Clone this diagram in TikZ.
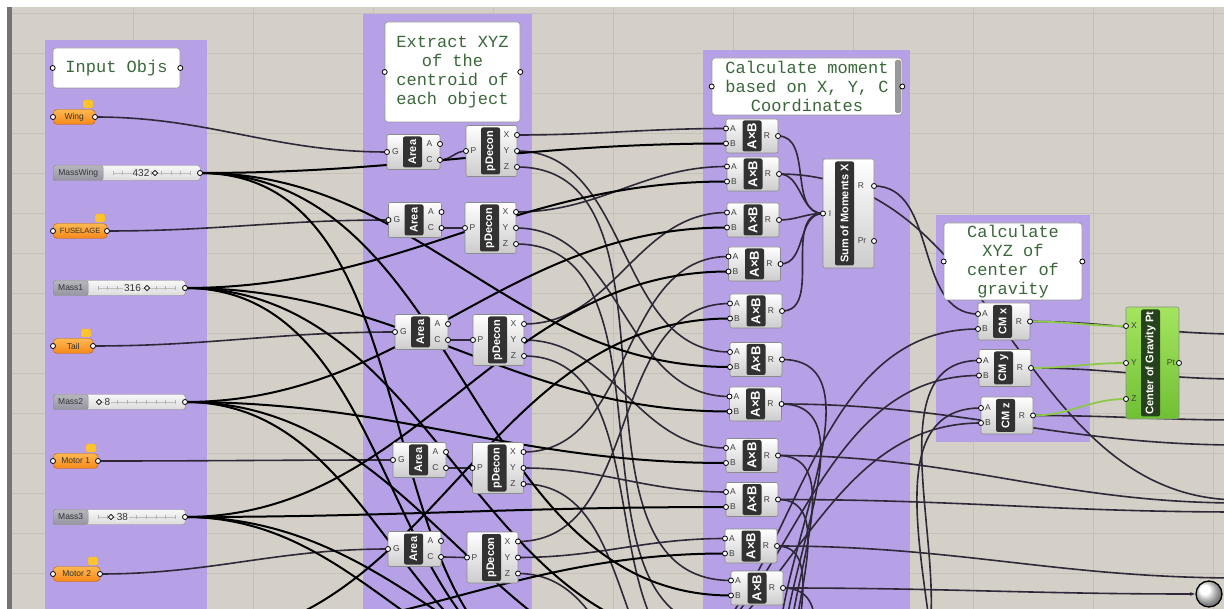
\documentclass[tikz,border=0pt]{standalone}
\usepackage{fontspec}
\setmainfont{Liberation Sans}
\newfontfamily\panelfont{Liberation Mono}
\usetikzlibrary{arrows.meta,positioning,calc}
\definecolor{canvas}{RGB}{212,208,199}
\definecolor{gridc}{RGB}{197,193,184}
\definecolor{groupc}{RGB}{182,161,230}
\definecolor{wirec}{RGB}{46,40,56}
\definecolor{paneltext}{RGB}{58,104,58}
\definecolor{orangetop}{RGB}{255,185,80}
\definecolor{orangebot}{RGB}{246,135,25}
\definecolor{orangeb}{RGB}{180,95,25}
\definecolor{flagc}{RGB}{255,196,45}
\definecolor{tagc}{RGB}{50,50,50}
\definecolor{greentop}{RGB}{165,228,95}
\definecolor{greenbot}{RGB}{112,192,52}
\definecolor{greentag}{RGB}{38,66,28}
\definecolor{greenwire}{RGB}{140,202,72}
\definecolor{sliderlab}{RGB}{150,150,162}

\pgfdeclarelayer{bg}
\pgfdeclarelayer{wires}
\pgfsetlayers{bg,wires,main}

\tikzset{
  comp/.style={draw=black!45, top color=white, bottom color=black!20, rounded corners=2pt, inner sep=0pt, line width=0.6pt},
  greencomp/.style={draw=black!45, top color=greentop, bottom color=greenbot, rounded corners=2pt, inner sep=0pt, line width=0.6pt},
  tag/.style={fill=tagc, rounded corners=2pt, text=white, font=\bfseries\fontsize{11}{12}\selectfont, rotate=90, inner sep=0pt, minimum height=19pt},
  plbl/.style={font=\fontsize{8.5}{9}\selectfont, text=black!75, inner sep=0pt},
  port/.style={circle, draw=black, fill=white, line width=0.8pt, inner sep=0pt, minimum size=5pt},
  panel/.style={draw=black!40, fill=white, rounded corners=3pt, line width=0.6pt, font=\panelfont\fontsize{17}{19}\selectfont, text=paneltext, align=center, inner sep=0pt},
  param/.style={draw=orangeb, top color=orangetop, bottom color=orangebot, rounded corners=4pt, minimum height=15pt, inner sep=0pt, font=\fontsize{8.5}{9}\selectfont, text=black!80},
  flag/.style={fill=flagc, draw=orangeb!60, rounded corners=1pt, minimum width=10pt, minimum height=8pt, inner sep=0pt},
  track/.style={draw=black!45, top color=black!3, bottom color=black!14, rounded corners=2.5pt, minimum height=15pt, inner sep=0pt},
  slbl/.style={draw=black!45, top color=sliderlab!70, bottom color=sliderlab, rounded corners=2.5pt, minimum height=15pt, inner sep=0pt, font=\fontsize{8.5}{9}\selectfont, text=black!80},
  wire/.style={draw=wirec, line width=1.6pt},
  masswire/.style={draw=black, line width=2pt},
  gwire/.style={draw=greenwire, line width=1.8pt},
  knob/.style={circle, ball color=white, draw=black, line width=1.3pt, minimum size=26pt, inner sep=0pt}
}

% orange parameter: name, centre y, width, text
\newcommand{\ghparam}[4]{%
  \node[param, minimum width=#3pt, anchor=west] (#1) at (53,#2) {#4};
  \node[flag] at (53+#3-7,#2-13) {};
  \coordinate (#1-o) at (53+#3,#2);
  \node[port] at (53,#2) {};
  \node[port] at (#1-o) {};
}
% slider: name, y, width, label width, label, value, value x, marker x
\newcommand{\ghslider}[8]{%
  \node[track, minimum width=#3pt, anchor=west] (#1) at (53,#2) {};
  \draw[black!25, line width=0.4pt] (53+#4+10,#2) -- (53+#3-10,#2);
  \foreach \k in {0,...,8} \draw[black!30, line width=0.4pt] ({53+#4+10+\k*(#3-#4-20)/8},#2-2) -- ++(0,4);
  \node[slbl, minimum width=#4pt, anchor=west] at (53,#2) {#5};
  \node[font=\fontsize{10}{11}\selectfont, text=black!80, fill=black!8, inner sep=1pt] at (#7,#2) {#6};
  \node[draw=black, fill=white, rotate=45, minimum size=3.6pt, inner sep=0pt, line width=0.7pt] at (#8,#2) {};
  \coordinate (#1-o) at (53+#3,#2);
  \node[port] at (#1-o) {};
}
\newcommand{\areacomp}[3]{%
  \node[comp, minimum width=53pt, minimum height=35pt] (#1) at (#2,#3) {};
  \node[tag, minimum width=31pt] at (#2-1,#3) {Area};
  \node[plbl] at (#2-18,#3) {G};
  \node[plbl] at (#2+16,#3-8) {A};
  \node[plbl] at (#2+16,#3+8) {C};
  \coordinate (#1-g) at (#2-26.5,#3);
  \coordinate (#1-a) at (#2+26.5,#3-8);
  \coordinate (#1-c) at (#2+26.5,#3+8);
  \foreach \p in {g,a,c} \node[port] at (#1-\p) {};
}
\newcommand{\deconcomp}[3]{%
  \node[comp, minimum width=51pt, minimum height=51pt] (#1) at (#2,#3) {};
  \node[tag, minimum width=47pt] at (#2-1,#3) {pDecon};
  \node[plbl] at (#2-18,#3) {P};
  \node[plbl] at (#2+15,#3-16) {X};
  \node[plbl] at (#2+15,#3) {Y};
  \node[plbl] at (#2+15,#3+16) {Z};
  \coordinate (#1-p) at (#2-25.5,#3);
  \coordinate (#1-x) at (#2+25.5,#3-16);
  \coordinate (#1-y) at (#2+25.5,#3);
  \coordinate (#1-z) at (#2+25.5,#3+16);
  \foreach \p in {p,x,y,z} \node[port] at (#1-\p) {};
}
\newcommand{\multcomp}[4]{%
  \node[comp, minimum width=52pt, minimum height=#4pt] (#1) at (#2,#3) {};
  \node[plbl] at (#2-19,#3-7.5) {A};
  \node[plbl] at (#2-19,#3+7.5) {B};
  \node[plbl] at (#2+15,#3) {R};
  \coordinate (#1-a) at (#2-26,#3-7.5);
  \coordinate (#1-b) at (#2-26,#3+7.5);
  \coordinate (#1-r) at (#2+26,#3);
  \foreach \p in {a,b,r} \node[port] at (#1-\p) {};
}

\begin{document}
\begin{tikzpicture}[x=1pt,y=-1pt]
\useasboundingbox (0,0) rectangle (1224,609);

\begin{pgfonlayer}{bg}
\fill[white] (0,0) rectangle (1224,609);
\fill[canvas] (7,7) rectangle (1224,609);
\foreach \gx in {133,253,...,1213} \draw[gridc, line width=0.6pt] (\gx,7) -- (\gx,609);
\foreach \gy in {13,53,...,613} \draw[gridc, line width=0.6pt] (12,\gy) -- (1224,\gy);
\fill[black!55] (7,7) rectangle (12,609);
% groups
\fill[groupc] (45,40) rectangle (207,615);
\fill[groupc] (363,14) rectangle (532,615);
\fill[groupc] (703,50) rectangle (910,615);
\fill[groupc] (936,215) rectangle (1090,442);
\end{pgfonlayer}

% panels
\node[panel, minimum width=127pt, minimum height=40pt] (pn1) at (116.5,68) {Input Objs};
\node[panel, minimum width=135pt, minimum height=100pt] (pn2) at (452.5,72) {Extract XYZ\\of the\\centroid of\\each object};
\node[panel, minimum width=190pt, minimum height=57pt] (pn3) at (807,86.5) {Calculate moment\\based on X, Y, C\\Coordinates};
\node[panel, minimum width=138pt, minimum height=77pt] (pn4) at (1013,261.5) {Calculate\\XYZ of\\center of\\gravity};
\fill[black!40, rounded corners=1.5pt] (895,60) rectangle (901,113);
\foreach \n in {pn1,pn2,pn3,pn4} {
  \node[port] at (\n.west) {};
  \node[port] at (\n.east) {};
}

% inputs
\ghparam{wing}{117}{42}{Wing}
\ghslider{mwing}{173}{147}{50}{MassWing}{432}{141}{155}
\ghparam{fus}{231}{54}{\fontsize{7.6}{8}\selectfont FUSELAGE}
\ghslider{m1}{288}{132}{35}{Mass1}{316}{132.5}{147}
\ghparam{tail}{346}{40}{Tail}
\ghslider{m2}{402}{132}{35}{Mass2}{8}{107.5}{99}
\ghparam{mot1}{461}{45}{Motor 1}
\ghslider{m3}{517}{132}{35}{Mass3}{38}{122.5}{111}
\ghparam{mot2}{574}{47}{Motor 2}

% centroids
\areacomp{ar1}{413.5}{152}
\areacomp{ar2}{415}{220}
\areacomp{ar3}{421.5}{332}
\areacomp{ar4}{419.5}{460}
\areacomp{ar5}{414.5}{549}
\deconcomp{pd1}{491.5}{151}
\deconcomp{pd2}{490.5}{228}
\deconcomp{pd3}{498.5}{340}
\deconcomp{pd4}{498}{468}
\deconcomp{pd5}{492.5}{557.5}

% moments
\foreach \m/\mx/\my in {mx1/752/136, mx2/753/174, mx3/753/220, mx4/754.5/264, mx5/756/311, mx6/756/359.5,
    mx7/755.5/404, mx8/752/455.5, mx9/752/499.5, mx10/751/546, mx11/757/588} {
  \multcomp{\m}{\mx}{\my}{34}
  \node[tag, minimum width=31pt, font=\bfseries\fontsize{13}{14}\selectfont] at (\mx,\my) {A×B};
}
\node[comp, minimum width=51pt, minimum height=109pt] (sum) at (848.5,213.5) {};
\node[tag, minimum width=104pt] at (844.5,213.5) {Sum of Moments X};
\node[plbl] at (830,213.5) {I};
\node[plbl] at (861,186) {R};
\node[plbl] at (862,241) {Pr};
\coordinate (sum-i) at (823,213.5);
\coordinate (sum-r) at (874,186);
\coordinate (sum-pr) at (874,241);
\foreach \p in {i,r,pr} \node[port] at (sum-\p) {};

% centre of gravity
\multcomp{cmx}{1004}{321.5}{37}
\node[tag, minimum width=33pt] at (1002.5,321.5) {CM x};
\multcomp{cmy}{1005}{368}{37}
\node[tag, minimum width=33pt] at (1003.5,368) {CM y};
\multcomp{cmz}{1007}{415.5}{37}
\node[tag, minimum width=33pt] at (1005.5,415.5) {CM z};
\node[greencomp, minimum width=53pt, minimum height=112pt] (cog) at (1152.5,363) {};
\node[tag, fill=greentag, minimum width=107pt] at (1150.5,363) {Center of Gravity Pt};
\node[plbl] at (1134,326) {X};
\node[plbl] at (1134,363) {Y};
\node[plbl] at (1134,399) {Z};
\node[plbl] at (1171,363) {Pt};
\coordinate (cog-x) at (1126,326);
\coordinate (cog-y) at (1126,363);
\coordinate (cog-z) at (1126,399);
\coordinate (cog-pt) at (1179,363);
\foreach \p in {x,y,z,pt} \node[port] at (cog-\p) {};
\node[knob] (knob) at (1209,594) {};
\coordinate (knob-i) at (knob.west);

% ends beyond the view
\coordinate (mass4) at (185,640);
\coordinate (q12a) at (726,628);  \coordinate (q12b) at (726,643);
\coordinate (q13a) at (726,672);  \coordinate (q13b) at (726,687);
\coordinate (q14a) at (726,716);  \coordinate (q14b) at (726,731);
\coordinate (q15a) at (726,760);  \coordinate (q15b) at (726,775);
\coordinate (sumyi) at (823,700);
\coordinate (sumzi) at (823,820);
\coordinate (sumyr) at (874,690);
\coordinate (sumzr) at (874,810);
\coordinate (mtot) at (600,690);
\coordinate (ex1) at (1240,334);
\coordinate (ex2) at (1240,379);
\coordinate (ex3) at (1240,420);
\coordinate (ex4) at (1240,445);
\coordinate (ex5) at (1240,503);
\coordinate (ex6) at (1240,512);
\coordinate (ex7) at (1240,578);
\coordinate (ex8) at (1240,500);

\begin{pgfonlayer}{wires}
\clip (0,0) rectangle (1224,609);
\foreach \s/\t in {wing-o/ar1-g, fus-o/ar2-g, tail-o/ar3-g, mot1-o/ar4-g, mot2-o/ar5-g,
    ar1-c/pd1-p, ar2-c/pd2-p, ar3-c/pd3-p, ar4-c/pd4-p, ar5-c/pd5-p,
    pd1-x/mx1-a, pd2-x/mx2-a, pd3-x/mx3-a, pd4-x/mx4-a, pd5-x/mx5-a,
    pd1-y/mx6-a, pd2-y/mx7-a, pd3-y/mx8-a, pd4-y/mx9-a, pd5-y/mx10-a,
    pd1-z/mx11-a, pd2-z/q12a, pd3-z/q13a, pd4-z/q14a, pd5-z/q15a,
    mx1-r/sum-i, mx2-r/sum-i, mx3-r/sum-i, mx4-r/sum-i, mx5-r/sum-i,
    mx6-r/sumyi, mx7-r/sumyi, mx8-r/sumyi, mx9-r/sumyi, mx10-r/sumyi, mx11-r/sumzi,
    mx2-r/ex8, mx7-r/ex4, mx8-r/ex5, mx9-r/ex6, mx10-r/ex7,
    sum-r/cmx-a, sumyr/cmy-a, sumzr/cmz-a, mtot/cmx-b, mtot/cmy-b, mtot/cmz-b,
    cmx-r/ex1, cmy-r/ex2, cmz-r/ex3}
  \draw[wire] (\s) to[out=0,in=180] (\t);
\draw[wire, -{Latex[length=5pt,width=4pt]}] (mx11-r) to[out=0,in=180] (knob-i);
\foreach \s/\t in {mwing-o/mx1-b, mwing-o/mx6-b, mwing-o/mx11-b, mwing-o/mtot,
    m1-o/mx2-b, m1-o/mx7-b, m1-o/q12b, m1-o/mtot,
    m2-o/mx3-b, m2-o/mx8-b, m2-o/q13b, m2-o/mtot,
    m3-o/mx4-b, m3-o/mx9-b, m3-o/q14b, m3-o/mtot,
    mass4/mx5-b, mass4/mx10-b, mass4/q15b}
  \draw[masswire] (\s) to[out=0,in=180] (\t);
\foreach \s/\t in {cmx-r/cog-x, cmy-r/cog-y, cmz-r/cog-z}
  \draw[gwire] (\s) to[out=0,in=180] (\t);
\end{pgfonlayer}
\end{tikzpicture}
\end{document}
